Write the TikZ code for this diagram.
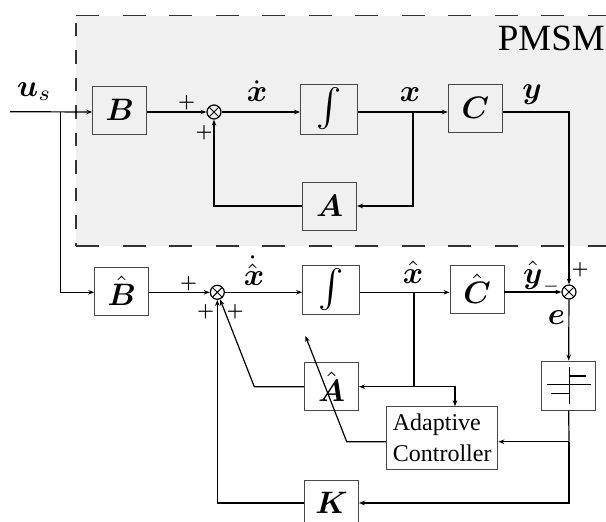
\documentclass[tikz,border=0pt]{standalone}
\usepackage{amsmath}
\usepackage{graphicx}
\usepackage{fontspec}
\newfontfamily\tnr{Liberation Serif}
\usetikzlibrary{arrows.meta}
\definecolor{bgc}{HTML}{F0F0F0}
\newcommand\mlab[1]{\scalebox{3.1}{$#1$}}
\newcommand\plab{\scalebox{1.9}{$\boldsymbol{+}$}}
\newcommand\intlab{\scalebox{3.8}{$\int$}}
\tikzset{
 blk/.style={draw=black!72, line width=0.9pt, inner sep=0pt, minimum width=54pt, minimum height=48pt},
 sumn/.style={circle, draw, line width=1.2pt, minimum size=14pt, inner sep=0pt,
   path picture={\draw[line width=1pt] (path picture bounding box.north west) -- (path picture bounding box.south east) (path picture bounding box.north east) -- (path picture bounding box.south west);}},
 con/.style={line width=1.2pt, -{Stealth[length=6pt,width=4.5pt]}},
 ln/.style={line width=1.2pt},
 lab/.style={inner sep=0pt},
 plus/.style={inner sep=0pt},
}
\begin{document}
\begin{tikzpicture}[x=1pt,y=-1pt]
\useasboundingbox (0,0) rectangle (606,522);
% PMSM region
\fill[bgc] (76,15.7) rectangle (610,246);
\draw[black!80, line width=1.3pt, dash pattern=on 23pt off 23.5pt] (76,15.7) -- (610,15.7) (76,246) -- (610,246);
\draw[black!80, line width=1.3pt, dash pattern=on 13.5pt off 14pt, dash phase=20.5pt] (76,15.7) -- (76,246);
\node[anchor=base east, font=\tnr\fontsize{37}{37}\selectfont, inner sep=0pt] (pmsm) at (605,50.7) {PMSM};
% blocks
\node[blk] (B) at (119.7,110) {\mlab{\boldsymbol{B}}};
\node[sumn] (s1) at (214,112) {};
\node[blk, minimum width=57pt, minimum height=50pt] (I1) at (329,109) {\intlab};
\node[blk] (C) at (475.3,108) {\mlab{\boldsymbol{C}}};
\node[blk] (A) at (329.5,206) {\mlab{\boldsymbol{A}}};
\node[sumn] (s2) at (569,292) {};
\node[blk] (Bh) at (121.7,291) {\mlab{\hat{\boldsymbol{B}}}};
\node[sumn] (s3) at (217.3,292.3) {};
\node[blk, minimum width=57pt, minimum height=49pt] (I2) at (331,289.5) {\intlab};
\node[blk] (Ch) at (477,289) {\mlab{\hat{\boldsymbol{C}}}};
\node[blk, minimum height=49pt] (R) at (568.7,385.5) {};
\node[blk] (Ah) at (331.6,386.5) {\mlab{\hat{\boldsymbol{A}}}};
\node[blk, minimum width=111.4pt, minimum height=62.3pt, font=\tnr\fontsize{24}{31.6}\selectfont, align=left] (AC) at (442.2,437.9) {Adaptive\\Controller};
\node[blk, minimum height=46pt] (K) at (331.5,503) {\mlab{\boldsymbol{K}}};
% symbol inside R
\draw[line width=1.3pt] (569.3,367) -- (569.3,404);
\draw[line width=1.3pt] (569.3,376) -- (586,376);
\draw[line width=1.3pt] (546.7,384.3) -- (590.7,384.3);
\draw[line width=1.3pt] (551,393.3) -- (569.3,393.3);
% coordinates
\coordinate (in) at (10,111.7);
\coordinate (bu) at (60.7,111.7);
\coordinate (bx) at (413,112);
\coordinate (bxh) at (414,292.3);
\coordinate (jA) at (414,386.7);
\coordinate (acin) at (455,386.7);
\coordinate (kA) at (254.3,386.7);
\coordinate (kC) at (346.7,441.7);
\coordinate (tip) at (305.4,336);
\coordinate (jR) at (569,441.7);
% top loop
\draw[con] (in) -- (B.west |- s1);
\draw[con] (B.east |- s1) -- (s1);
\draw[con] (s1) -- (s1 -| I1.west);
\draw[con] (I1.east |- s1) -- (C.west |- s1);
\draw[con] (bx) -- (bx |- A) -- (A.east);
\draw[con] (A.west) -- (s1 |- A) -- (s1);
\draw[con] (C.east |- s1) -- (s2 |- s1) -- (s2);
% observer
\draw[con] (bu) -- (bu |- s3) -- (Bh.west |- s3);
\draw[con] (Bh.east |- s3) -- (s3);
\draw[con] (s3) -- (s3 -| I2.west);
\draw[con] (I2.east |- s3) -- (Ch.west |- s3);
\draw[con] (Ch.east |- s2) -- (s2);
\draw[ln] (bxh) -- (jA);
\draw[con] (jA) -- (Ah.east |- jA);
\draw[con] (jA) -- (acin) -- (acin |- AC.north);
\draw[con] (Ah.west |- jA) -- (kA) -- (s3);
\draw[con] (AC.west |- kC) -- (kC) -- (tip);
\draw[con] (s2) -- (R.north);
\draw[ln] (R.south) -- (jR);
\draw[con] (jR) -- (AC.east |- jR);
\draw[con] (jR) -- (jR |- K) -- (K.east);
\draw[con] (K.west) -- (s3 |- K) -- (s3);
% labels
\node[lab, anchor=base west] (us) at (17,96) {\mlab{\boldsymbol{u}_s}};
\node[lab, anchor=base] (xd) at (257,101.7) {\mlab{\dot{\boldsymbol{x}}}};
\node[lab, anchor=base] (xl) at (410,101.7) {\mlab{\boldsymbol{x}}};
\node[lab, anchor=base] (yl) at (532,98) {\mlab{\boldsymbol{y}}};
\node[lab, anchor=base] (xhd) at (254,285) {\mlab{\dot{\hat{\boldsymbol{x}}}}};
\node[lab, anchor=base] (xh) at (413,283) {\mlab{\hat{\boldsymbol{x}}}};
\node[lab, anchor=base west] (yh) at (523,283) {\mlab{\hat{\boldsymbol{y}}_{\scriptscriptstyle -}}};
\node[lab] (el) at (556.5,318) {\mlab{\boldsymbol{e}}};
\node[plus] (p1) at (186.5,103) {\plab};
\node[plus] (p2) at (204,132.3) {\plab};
\node[plus] (p3) at (188.5,284) {\plab};
\node[plus] (p4) at (205.7,311.7) {\plab};
\node[plus] (p5) at (235,311.7) {\plab};
\node[plus] (p6) at (580,270) {\plab};
\end{tikzpicture}
\end{document}
